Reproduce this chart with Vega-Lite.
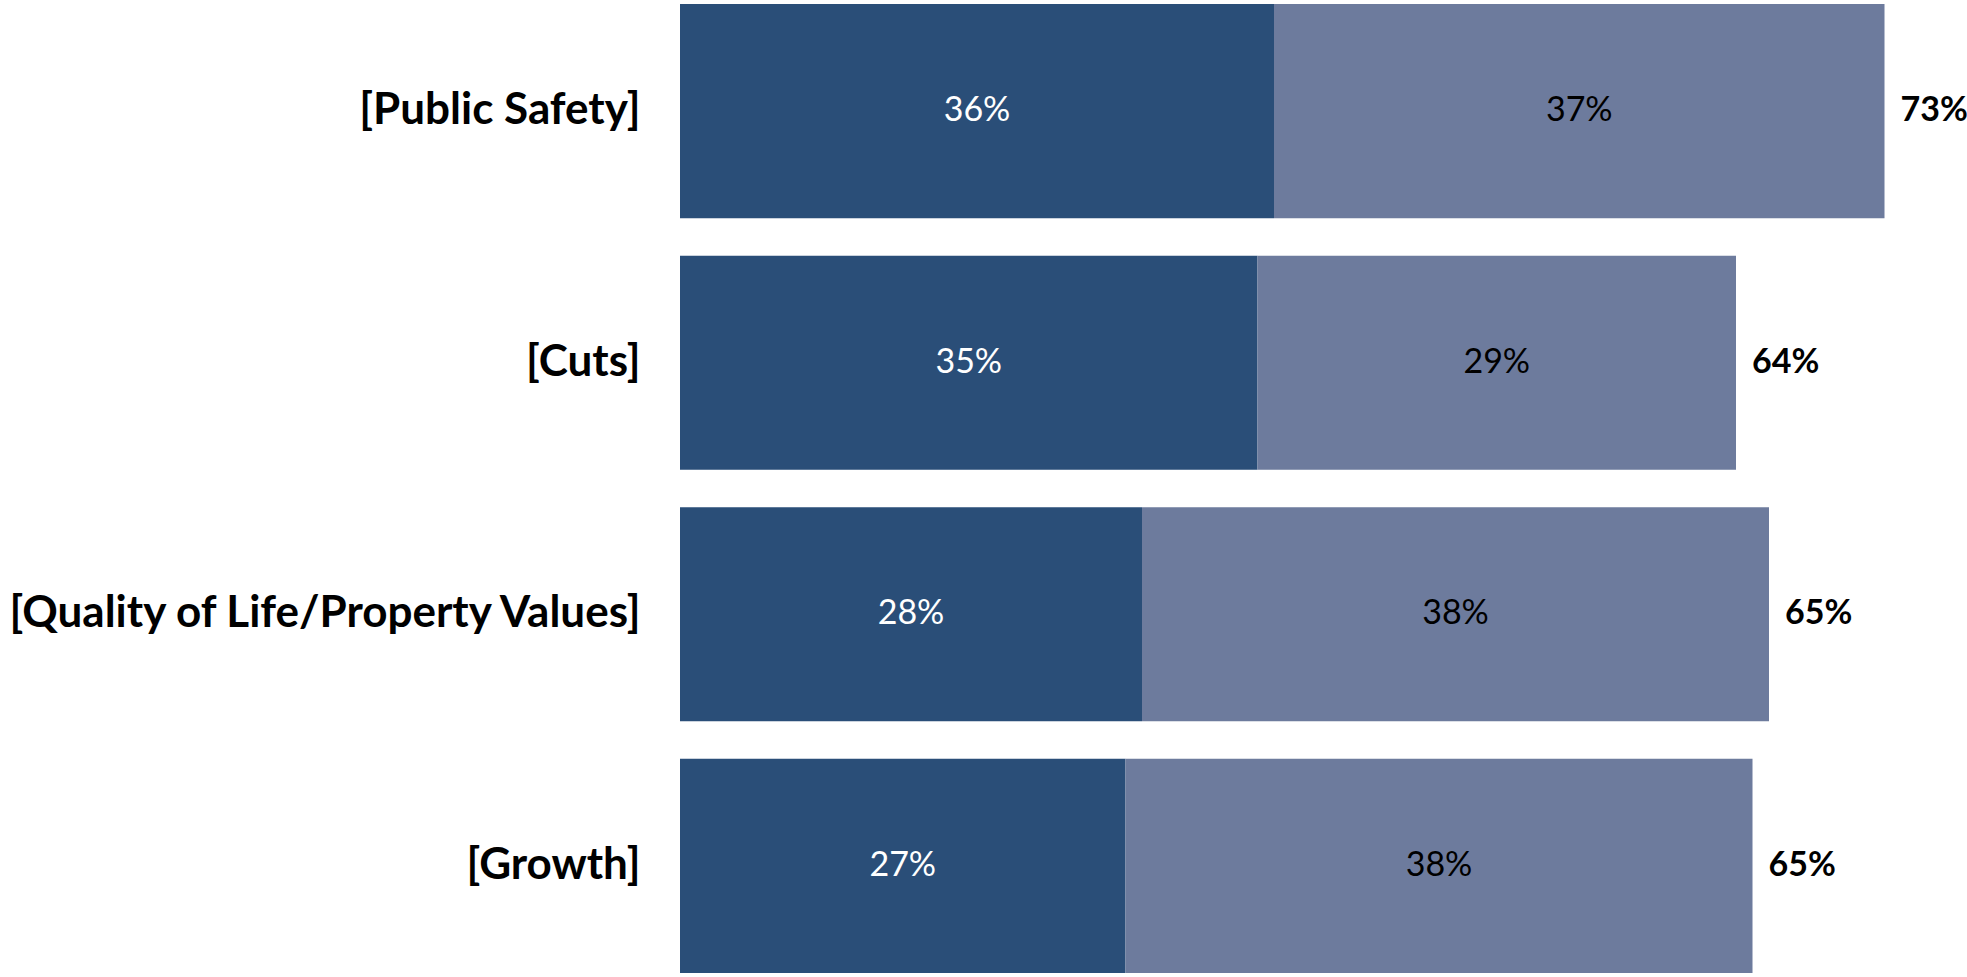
{
  "$schema": "https://vega.github.io/schema/vega-lite/v6.json",
  "width": 1287,
  "height": 977,
  "autosize": "none",
  "padding": {"left": 680, "top": 0, "right": 0, "bottom": 0},
  "background": "white",
  "config": {"view": {"stroke": null}},
  "datasets": {
    "segments": [
      {"item": "[Public Safety]", "segment": "first", "rank": 1, "value": 0.36},
      {"item": "[Public Safety]", "segment": "second", "rank": 2, "value": 0.37},
      {"item": "[Cuts]", "segment": "first", "rank": 1, "value": 0.35},
      {"item": "[Cuts]", "segment": "second", "rank": 2, "value": 0.29},
      {"item": "[Quality of Life/Property Values]", "segment": "first", "rank": 1, "value": 0.28},
      {"item": "[Quality of Life/Property Values]", "segment": "second", "rank": 2, "value": 0.38},
      {"item": "[Growth]", "segment": "first", "rank": 1, "value": 0.27},
      {"item": "[Growth]", "segment": "second", "rank": 2, "value": 0.38}
    ],
    "totals": [
      {"item": "[Public Safety]", "total": 0.73},
      {"item": "[Cuts]", "total": 0.64},
      {"item": "[Quality of Life/Property Values]", "total": 0.65},
      {"item": "[Growth]", "total": 0.65}
    ]
  },
  "encoding": {
    "y": {
      "field": "item",
      "type": "nominal",
      "sort": ["[Public Safety]", "[Cuts]", "[Quality of Life/Property Values]", "[Growth]"],
      "scale": {"paddingInner": 0.149, "paddingOuter": 0.016},
      "axis": {
        "title": null,
        "ticks": false,
        "domain": false,
        "labelFont": "Lato",
        "labelFontWeight": "bold",
        "labelFontSize": 44,
        "labelColor": "#000000",
        "labelPadding": 40,
        "labelLimit": 1000
      }
    }
  },
  "data": {"name": "segments"},
  "transform": [
    {"stack": "value", "groupby": ["item"], "sort": [{"field": "rank", "order": "ascending"}], "as": ["v0", "v1"]},
    {"calculate": "(datum.v0 + datum.v1) / 2", "as": "mid"},
    {"lookup": "item", "from": {"data": {"name": "totals"}, "key": "item", "fields": ["total"]}}
  ],
  "layer": [
    {
      "mark": {"type": "bar"},
      "encoding": {
        "x": {"field": "v0", "type": "quantitative", "scale": {"domain": [0, 0.78], "nice": false, "zero": true}, "axis": null},
        "x2": {"field": "v1"},
        "color": {
          "field": "segment",
          "type": "nominal",
          "scale": {"domain": ["first", "second"], "range": ["#2A4E78", "#6D7B9D"]},
          "legend": null
        }
      }
    },
    {
      "transform": [{"filter": "datum.segment === 'first'"}],
      "mark": {"type": "text", "font": "Lato", "fontSize": 34, "color": "#FFFFFF", "align": "center", "baseline": "middle"},
      "encoding": {
        "x": {"field": "mid", "type": "quantitative"},
        "text": {"field": "value", "type": "quantitative", "format": ".0%"}
      }
    },
    {
      "transform": [{"filter": "datum.segment === 'second'"}],
      "mark": {"type": "text", "font": "Lato", "fontSize": 34, "color": "#000000", "align": "center", "baseline": "middle"},
      "encoding": {
        "x": {"field": "mid", "type": "quantitative"},
        "text": {"field": "value", "type": "quantitative", "format": ".0%"}
      }
    },
    {
      "transform": [{"filter": "datum.segment === 'second'"}],
      "mark": {"type": "text", "font": "Lato", "fontSize": 34, "fontWeight": "bold", "color": "#000000", "align": "left", "baseline": "middle", "dx": 16},
      "encoding": {
        "x": {"field": "v1", "type": "quantitative"},
        "text": {"field": "total", "type": "quantitative", "format": ".0%"}
      }
    }
  ]
}
